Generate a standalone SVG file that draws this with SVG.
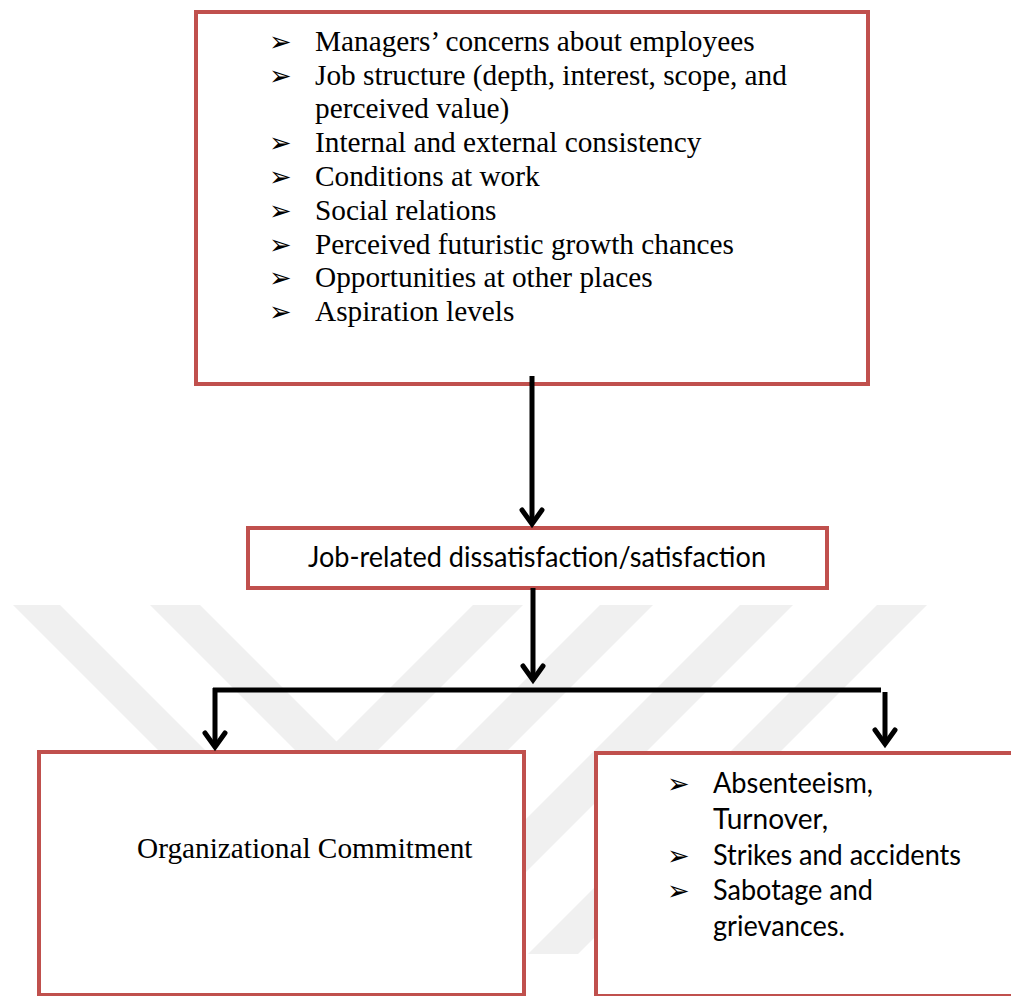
<svg xmlns="http://www.w3.org/2000/svg" width="1011" height="996" viewBox="0 0 1011 996">
<style>
.box{fill:#ffffff;stroke:#c0504d;stroke-width:4}
.serif{font-family:"Liberation Serif","Times New Roman",serif;font-size:29.3px;fill:#000}
.sans{font-family:Lato,"Open Sans",sans-serif;font-size:29.3px;fill:#000}
.bul{font-family:"DejaVu Sans",sans-serif;font-size:27px;fill:#000}
.wm{fill:#f0f0f0}
.line{stroke:#000;stroke-width:5;fill:none}
.head{stroke:#000;stroke-width:5;fill:none;stroke-linecap:round;stroke-linejoin:miter}
</style>
<rect width="1011" height="996" fill="#ffffff"/>
<g id="watermark">
<polygon class="wm" points="13,605 60,605 240,785 193,785"/>
<polygon class="wm" points="150,605 200,605 336.5,741.5 473,605 523,605 336.5,791.5"/>
<polygon class="wm" points="600,605 653,605 453,805 400,805"/>
<polygon class="wm" points="740,605 793,605 493,905 440,905"/>
<polygon class="wm" points="877,605 927,605 578,954 528,954"/>
</g>
<g id="top-box">
<rect class="box" x="196" y="12" width="672" height="372"/>
<g class="bul">
<text x="269" y="51">➢</text>
<text x="269" y="85">➢</text>
<text x="269" y="152">➢</text>
<text x="269" y="186">➢</text>
<text x="269" y="220">➢</text>
<text x="269" y="254">➢</text>
<text x="269" y="287">➢</text>
<text x="269" y="321">➢</text>
</g>
<g class="serif">
<text x="315" y="51">Managers’ concerns about employees</text>
<text x="315" y="85">Job structure (depth, interest, scope, and</text>
<text x="315" y="118">perceived value)</text>
<text x="315" y="152">Internal and external consistency</text>
<text x="315" y="186">Conditions at work</text>
<text x="315" y="220">Social relations</text>
<text x="315" y="254">Perceived futuristic growth chances</text>
<text x="315" y="287">Opportunities at other places</text>
<text x="315" y="321">Aspiration levels</text>
</g>
</g>
<g id="middle-box">
<rect class="box" x="248" y="528" width="579" height="60"/>
<text class="sans" x="308" y="567" textLength="458" lengthAdjust="spacingAndGlyphs">Job-related dissatisfaction/satisfaction</text>
</g>
<g id="left-box">
<rect class="box" x="39" y="752" width="485" height="243"/>
<text class="serif" x="137" y="858">Organizational Commitment</text>
</g>
<g id="right-box">
<rect class="box" x="596" y="753" width="440" height="243"/>
<g class="bul">
<text x="667" y="793">➢</text>
<text x="667" y="865">➢</text>
<text x="667" y="900">➢</text>
</g>
<g class="sans">
<text x="713" y="793" textLength="160" lengthAdjust="spacingAndGlyphs">Absenteeism,</text>
<text x="713" y="829" textLength="115" lengthAdjust="spacingAndGlyphs">Turnover,</text>
<text x="713" y="865" textLength="248" lengthAdjust="spacingAndGlyphs">Strikes and accidents</text>
<text x="713" y="900" textLength="160" lengthAdjust="spacingAndGlyphs">Sabotage and</text>
<text x="713" y="936" textLength="132" lengthAdjust="spacingAndGlyphs">grievances.</text>
</g>
</g>
<g id="connectors">
<line class="line" x1="532" y1="376" x2="532" y2="523"/>
<polyline class="head" points="522,510 532,524 542,510"/>
<line class="line" x1="533" y1="588" x2="533" y2="679"/>
<polyline class="head" points="523,666 533,680 543,666"/>
<line class="line" x1="213" y1="690" x2="881" y2="690"/>
<line class="line" x1="215" y1="688" x2="215" y2="746"/>
<polyline class="head" points="205,733 215,747 225,733"/>
<line class="line" x1="885" y1="692" x2="885" y2="743"/>
<polyline class="head" points="875,730 885,744 895,730"/>
</g>
</svg>
